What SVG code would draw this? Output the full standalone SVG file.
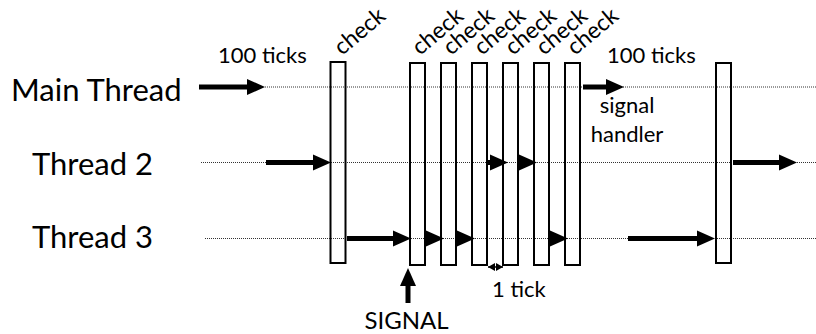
<svg xmlns="http://www.w3.org/2000/svg" width="816" height="334" viewBox="0 0 816 334">
<style>
text{font-family:Lato,"Open Sans","DejaVu Sans",sans-serif;fill:#000}
.lbl{font-size:31px}
.sm{font-size:22px}
.sg{font-size:24px}
.chk{font-size:23px}
.tl{stroke:#333;stroke-width:1;stroke-dasharray:1 1;fill:none}
.bx{fill:none;stroke:#000;stroke-width:2}
.ar{stroke:#000;stroke-width:5;fill:none;marker-end:url(#head)}
.tk{stroke:#000;stroke-width:1.5;fill:none;marker-start:url(#sh);marker-end:url(#sh)}
</style>
<defs>
<marker id="head" markerUnits="userSpaceOnUse" markerWidth="18" markerHeight="16" viewBox="0 -8 18 16" refX="0" refY="0" orient="auto" overflow="visible"><path d="M0,-8 L18,0 L0,8 z" fill="#000"/></marker>
<marker id="sh" markerUnits="userSpaceOnUse" markerWidth="7" markerHeight="8" viewBox="0 -4 7 8" refX="7" refY="0" orient="auto-start-reverse" overflow="visible"><path d="M0,-4 L7,0 L0,4 z" fill="#000"/></marker>
</defs>
<g id="labels">
<text class="lbl" x="11" y="101">Main Thread</text>
<text class="lbl" x="32" y="175">Thread 2</text>
<text class="lbl" x="32" y="248">Thread 3</text>
</g>
<g id="timelines">
<line class="tl" x1="265" y1="87" x2="816" y2="87"/>
<line class="tl" x1="201" y1="162.5" x2="816" y2="162.5"/>
<line class="tl" x1="205" y1="238.5" x2="816" y2="238.5"/>
</g>
<g id="box1"><rect class="bx" x="330.5" y="62" width="15" height="201"/><text class="chk" transform="translate(342 56) rotate(-40)">check</text></g>
<g id="box2"><rect class="bx" x="410" y="63" width="15" height="202"/><text class="chk" transform="translate(420 56) rotate(-40)">check</text></g>
<g id="box3"><rect class="bx" x="441" y="63" width="15" height="202"/><text class="chk" transform="translate(451 56) rotate(-40)">check</text></g>
<g id="box4"><rect class="bx" x="472" y="63" width="15" height="202"/><text class="chk" transform="translate(482 56) rotate(-40)">check</text></g>
<g id="box5"><rect class="bx" x="503" y="63" width="15" height="202"/><text class="chk" transform="translate(513 56) rotate(-40)">check</text></g>
<g id="box6"><rect class="bx" x="534" y="63" width="15" height="202"/><text class="chk" transform="translate(544 56) rotate(-40)">check</text></g>
<g id="box7"><rect class="bx" x="565" y="63" width="15" height="202"/><text class="chk" transform="translate(575 56) rotate(-40)">check</text></g>
<g id="box8"><rect class="bx" x="716" y="63" width="15" height="200"/></g>
<g id="connectors">
<line class="ar" x1="199" y1="87" x2="247" y2="87"/>
<line class="ar" x1="583" y1="87" x2="606" y2="87"/>
<line class="ar" x1="266" y1="162.5" x2="313" y2="162.5"/>
<line class="ar" x1="488" y1="162.5" x2="490" y2="162.5"/>
<line class="ar" x1="518" y1="162.5" x2="519" y2="162.5"/>
<line class="ar" x1="733" y1="162.5" x2="779" y2="162.5"/>
<line class="ar" x1="347" y1="238.5" x2="393" y2="238.5"/>
<line class="ar" x1="425" y1="238.5" x2="426" y2="238.5"/>
<line class="ar" x1="456" y1="238.5" x2="457" y2="238.5"/>
<line class="ar" x1="549" y1="238.5" x2="550" y2="238.5"/>
<line class="ar" x1="628" y1="238.5" x2="697" y2="238.5"/>
<line class="ar" x1="408" y1="303" x2="408" y2="286"/>
<line class="tk" x1="488" y1="267" x2="503" y2="267"/>
</g>
<g id="annotations">
<text class="sm" x="218" y="63">100 ticks</text>
<text class="sm" x="607" y="63">100 ticks</text>
<text class="sm" x="627" y="113" text-anchor="middle">signal</text>
<text class="sm" x="627" y="142" text-anchor="middle">handler</text>
<text class="sg" x="406.5" y="329" text-anchor="middle">SIGNAL</text>
<text class="sm" x="492" y="297">1 tick</text>
</g>
</svg>
